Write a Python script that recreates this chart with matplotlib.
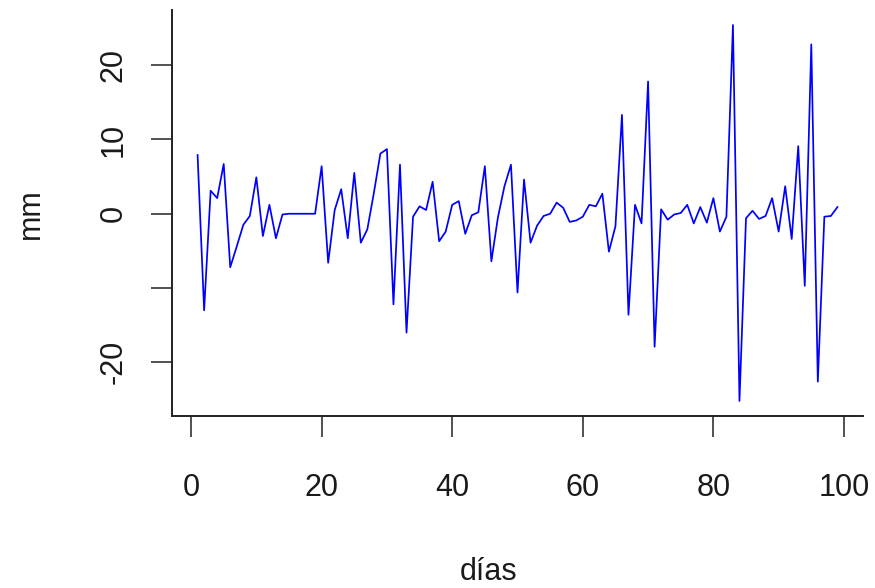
import matplotlib
matplotlib.use("Agg")
import matplotlib.pyplot as plt
import numpy as np

plt.rcParams['font.family'] = ['Liberation Sans', 'DejaVu Sans']

dias = list(range(1, 100))
mm = [7.9, -13.0, 3.1, 2.1, 6.7, -7.2, -4.4, -1.5, -0.3, 4.9,
      -3.0, 1.2, -3.3, -0.1, 0.0, 0.0, 0.0, 0.0, 0.0, 6.4,
      -6.6, 0.5, 3.3, -3.3, 5.5, -3.9, -2.1, 2.8, 8.1, 8.7,
      -12.2, 6.6, -16.0, -0.4, 1.0, 0.5, 4.3, -3.7, -2.4, 1.2,
      1.7, -2.7, -0.2, 0.2, 6.4, -6.4, -0.5, 3.7, 6.6, -10.6,
      4.6, -3.9, -1.6, -0.3, 0.0, 1.5, 0.8, -1.1, -0.9, -0.4,
      1.2, 1.0, 2.7, -5.1, -1.7, 13.3, -13.6, 1.2, -1.3, 17.8,
      -17.9, 0.6, -0.8, -0.1, 0.1, 1.2, -1.3, 0.9, -1.2, 2.1,
      -2.4, -0.4, 25.4, -25.2, -0.6, 0.4, -0.7, -0.3, 2.1, -2.4,
      3.7, -3.4, 9.1, -9.7, 22.8, -22.6, -0.4, -0.3, 0.9]

xticks = [0, 20, 40, 60, 80, 100]
yticks = [-20, -10, 0, 10, 20]
ytick_labels = ['-20', '', '0', '10', '20']

W, H = 875, 588
fig = plt.figure(figsize=(W / 100, H / 100), dpi=100)
ax = fig.add_axes([172 / W, 1 - 416 / H, (863 - 172) / W, (416 - 10) / H])

ax.plot(dias, mm, color='#0000ff', lw=1.25)

xr = max(dias) - min(dias)
yr = max(mm) - min(mm)
ax.set_xlim(min(dias) - 0.04 * xr, max(dias) + 0.04 * xr)
ax.set_ylim(min(mm) - 0.04 * yr, max(mm) + 0.04 * yr)

for s in ['top', 'right']:
    ax.spines[s].set_visible(False)
for s in ['left', 'bottom']:
    ax.spines[s].set_linewidth(1.4)
    ax.spines[s].set_color('#222222')

ax.set_xticks(xticks)
ax.set_yticks(yticks)
ax.set_yticklabels(ytick_labels, rotation=90, va='center')
ax.tick_params(axis='both', direction='out', length=15, width=1.2,
               color='#333333', labelsize=22, labelcolor='#1a1a1a')
ax.tick_params(axis='x', pad=26)
ax.tick_params(axis='y', pad=16)

fig.text(489 / W, 1 - 572 / H, 'días', ha='center', va='center',
         fontsize=22, color='#1a1a1a')
fig.text(31 / W, 1 - 214 / H, 'mm', ha='center', va='center',
         rotation=90, fontsize=22, color='#1a1a1a')

fig.savefig('out.png', dpi=100)
